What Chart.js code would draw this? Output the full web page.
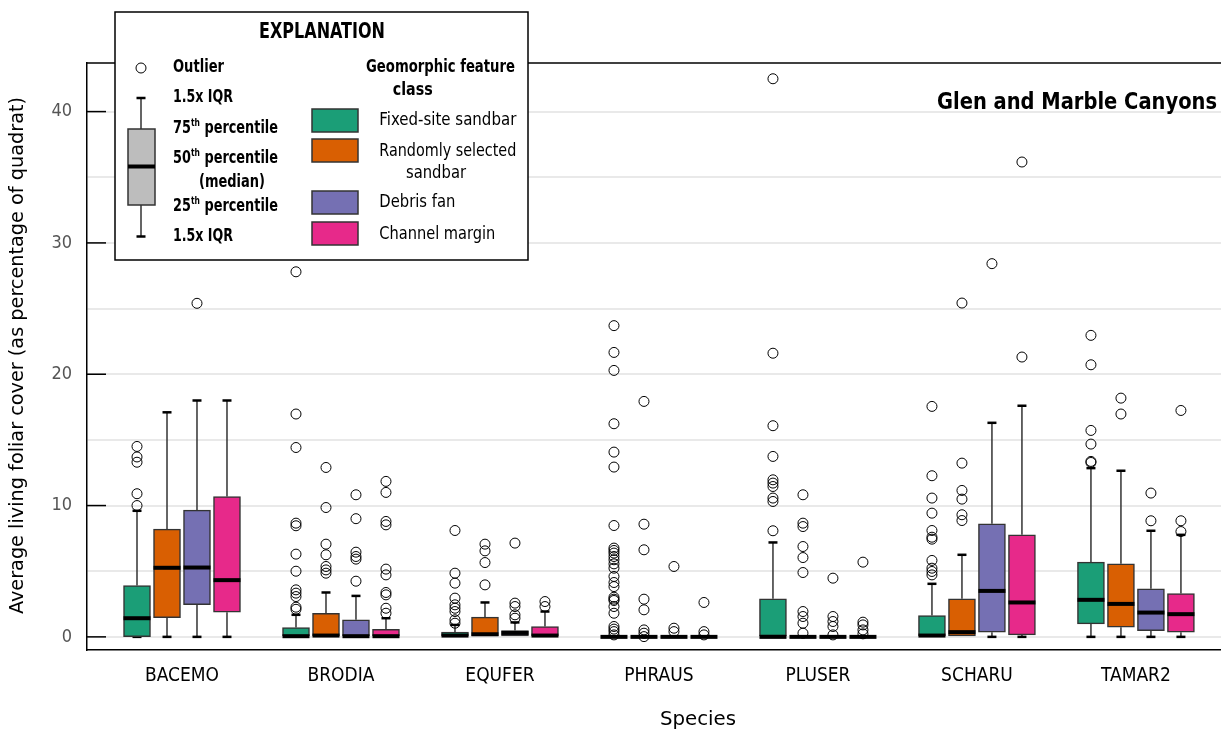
<!DOCTYPE html>
<html><head><meta charset="utf-8">
<script src="https://cdn.jsdelivr.net/npm/chart.js@4.4.1/dist/chart.umd.min.js"></script>
<style>html,body{margin:0;padding:0;background:#fff;overflow:hidden}#wrap{position:relative;width:1221px;height:733px}</style>
</head><body><div id="wrap"><canvas id="c" width="1221" height="733"></canvas></div>
<script>
// ---------------- DATA ----------------
const species = ['BACEMO','BRODIA','EQUFER','PHRAUS','PLUSER','SCHARU','TAMAR2'];
const classNames = ['Fixed-site sandbar','Randomly selected sandbar','Debris fan','Channel margin'];
const classColors = ['#1b9e77','#d95f02','#7570b3','#e7298a'];
const yTickLabels = [0,10,20,30,40];

// Fixed-site sandbar
const fixedQ1  = [1.0e-2, 0, 0, 0, 0, 0, 0.99];
const fixedMed = [1.42, 0.05, 0.1, 0, 0, 0.1, 2.82];
const fixedQ3  = [3.91, 0.71, 0.36, 0, 2.9, 1.63, 5.69];
const fixedLo  = [0, 0, 0, 0, 0, 0, 0];
const fixedHi  = [9.6, 1.68, 0.91, 0, 7.19, 4.04, 12.85];
const fixedOut = [
  [10.0, 10.9, 13.3, 13.7, 14.5],
  [27.8, 16.97, 14.42, 8.66, 8.46, 6.3, 5.0, 3.58, 3.33, 3.07, 2.26, 2.1],
  [8.1, 4.85, 4.09, 2.95, 2.44, 2.18, 1.93, 1.3, 1.04],
  [23.7, 21.66, 20.29, 16.23, 14.07, 12.93, 8.48, 6.76, 6.58, 6.38, 6.12, 5.87, 5.56, 5.23, 4.6, 4.14, 3.83, 3.02, 2.87, 2.77, 2.31, 1.8, 0.79, 0.59, 0.4, 0.15],
  [42.5, 21.6, 16.08, 13.74, 11.96, 11.71, 11.45, 10.57, 10.31, 8.08],
  [17.55, 12.27, 10.57, 9.42, 8.1, 7.59, 7.44, 5.82, 5.23, 4.98, 4.72],
  [22.96, 20.72, 15.72, 14.68, 13.36, 13.28]
];
// Randomly selected sandbar
const randomQ1  = [1.47, 0, 0, 0, 0, 0, 0.74];
const randomMed = [5.26, 0.1, 0.2, 0, 0, 0.36, 2.51];
const randomQ3  = [8.2, 1.8, 1.5, 0, 0, 2.9, 5.56];
const randomLo  = [0, 0, 0, 0, 0, 0, 0];
const randomHi  = [17.1, 3.38, 2.62, 0, 0, 6.25, 12.65];
const randomOut = [
  [],
  [12.9, 9.85, 7.06, 6.25, 5.36, 5.1, 4.85],
  [7.06, 6.55, 5.66, 3.96],
  [17.93, 8.58, 6.63, 2.87, 2.06, 0.53, 0.28, 0.02],
  [10.82, 8.66, 8.4, 6.88, 6.04, 4.9, 1.93, 1.55, 1.04, 0.28],
  [25.42, 13.23, 11.15, 10.49, 9.3, 8.86],
  [18.18, 16.97]
];
// Debris fan
const debrisQ1  = [2.46, 0, 0, 0, 0, 0.36, 0.48];
const debrisMed = [5.28, 0.05, 0.3, 0, 0, 3.5, 1.85];
const debrisQ3  = [9.65, 1.3, 0.48, 0, 0, 8.61, 3.66];
const debrisLo  = [0, 0, 0, 0, 0, 0, 0];
const debrisHi  = [18.0, 3.12, 1.1, 0, 0, 16.3, 8.08];
const debrisOut = [
  [25.4],
  [10.82, 9.0, 6.45, 6.12, 5.92, 4.24],
  [7.14, 2.57, 2.31, 1.68, 1.42],
  [5.36, 0.66, 0.4],
  [4.47, 1.55, 1.17, 0.79, 0.15],
  [28.42],
  [10.95, 8.84]
];
// Channel margin
const channelQ1  = [1.88, 0, 0, 0, 0, 0.15, 0.36];
const channelMed = [4.32, 0.05, 0.1, 0, 0, 2.62, 1.73];
const channelQ3  = [10.69, 0.58, 0.79, 0, 0, 7.77, 3.3];
const channelLo  = [0, 0, 0, 0, 0, 0, 0];
const channelHi  = [18.0, 1.42, 1.93, 0, 0, 17.6, 7.77];
const channelOut = [
  [],
  [11.84, 11.0, 8.79, 8.53, 5.16, 4.72, 3.38, 3.2, 2.18, 1.8],
  [2.69, 2.31],
  [2.62, 0.4, 0.15],
  [5.69, 1.12, 0.91, 0.53, 0.23],
  [36.16, 21.31],
  [17.24, 8.84, 8.02]
];

// ---------------- FONT PICK ----------------
function hasFont(name){
  const c=document.createElement('canvas').getContext('2d');
  const t='mmmmmmmmmmlliWWW BACEMO 0123';
  let r=false;
  for(const fb of ['monospace','serif']){
    c.font='40px '+fb; const a=c.measureText(t).width;
    c.font='40px "'+name+'", '+fb; const b=c.measureText(t).width;
    if(Math.abs(a-b)>0.5) r=true;
  }
  return r;
}
let NARROW=null;
for(const n of ['Liberation Sans Narrow','Arial Narrow','DejaVu Sans Condensed','Roboto Condensed']){ if(hasFont(n)){NARROW=n;break;} }
const F = NARROW ? '"'+NARROW+'", "Liberation Sans", sans-serif' : '"Liberation Sans", Roboto, sans-serif';

// outlier markers must not shrink the plot area (no auto overflow padding)
Chart.ScatterController.prototype.getMaxOverflow = function(){ return 0; };

// ---------------- BUILD ----------------
const groups = [
  {q1:fixedQ1, med:fixedMed, q3:fixedQ3, lo:fixedLo, hi:fixedHi, out:fixedOut},
  {q1:randomQ1, med:randomMed, q3:randomQ3, lo:randomLo, hi:randomHi, out:randomOut},
  {q1:debrisQ1, med:debrisMed, q3:debrisQ3, lo:debrisLo, hi:debrisHi, out:debrisOut},
  {q1:channelQ1, med:channelMed, q3:channelQ3, lo:channelLo, hi:channelHi, out:channelOut}
];
const offsets = [-0.283, -0.0943, 0.0943, 0.283];
const BOXW = 27;

const datasets = groups.map((g,k)=>({
  type:'bar', label:classNames[k],
  data: species.map((s,i)=>({x:i+1+offsets[k], y:[g.q1[i], g.q3[i]]})),
  backgroundColor: classColors[k], borderColor:'#333', borderWidth:1.5, borderSkipped:false,
  grouped:false, maxBarThickness:BOXW, barPercentage:1, categoryPercentage:1, order:1
}));
const outPts=[];
groups.forEach((g,k)=>species.forEach((s,i)=>g.out[i].forEach(v=>outPts.push({x:i+1+offsets[k], y:v}))));
datasets.push({type:'scatter', label:'Outlier', data:outPts, pointStyle:'circle', pointRadius:5, pointHoverRadius:5,
  borderColor:'#000', borderWidth:1, backgroundColor:'rgba(0,0,0,0)', order:-1});

function fitText(ctx, txt, x, y, w, font, align, color, rot){
  ctx.save(); ctx.font=font; ctx.fillStyle=color||'#000'; ctx.textBaseline='middle';
  const m=ctx.measureText(txt).width; const sx=w/m;
  ctx.translate(x,y); if(rot) ctx.rotate(rot); ctx.scale(sx,1);
  ctx.textAlign=align||'left'; ctx.fillText(txt,0,0); ctx.restore();
}
function supText(ctx, a, sup, b, x, y, w, size){
  ctx.save();
  const fn='bold '+size+'px '+F, fs='bold '+Math.round(size*0.6)+'px '+F;
  ctx.font=fn; const wa=ctx.measureText(a).width, wb=ctx.measureText(b).width;
  ctx.font=fs; const ws=ctx.measureText(sup).width;
  const sx=w/(wa+wb+ws);
  ctx.translate(x,y); ctx.scale(sx,1); ctx.textBaseline='middle'; ctx.textAlign='left'; ctx.fillStyle='#000';
  ctx.font=fn; ctx.fillText(a,0,0);
  ctx.font=fs; ctx.fillText(sup,wa,-size*0.32);
  ctx.font=fn; ctx.fillText(b,wa+ws,0);
  ctx.restore();
}

const boxPlugin = {
  id:'boxparts',
  beforeDraw(chart){ const c=chart.ctx; c.save(); c.fillStyle='#fff'; c.fillRect(0,0,chart.width,chart.height); c.restore(); },
  beforeDatasetsDraw(chart){
    const {ctx, scales:{x,y}} = chart;
    ctx.save(); ctx.strokeStyle='#333'; 
    groups.forEach((g,k)=>species.forEach((s,i)=>{
      const px=x.getPixelForValue(i+1+offsets[k]);
      const segs=[];
      if(g.hi[i]>g.q3[i]) segs.push([g.q3[i],g.hi[i]]);
      if(g.q1[i]>g.lo[i]) segs.push([g.q1[i],g.lo[i]]);
      segs.forEach(([a,b])=>{
        ctx.lineWidth=1.5; ctx.strokeStyle='#333';
        ctx.beginPath(); ctx.moveTo(px,y.getPixelForValue(a)); ctx.lineTo(px,y.getPixelForValue(b)); ctx.stroke();
        ctx.lineWidth=2.5; ctx.strokeStyle='#000';
        ctx.beginPath(); ctx.moveTo(px-4.5,y.getPixelForValue(b)); ctx.lineTo(px+4.5,y.getPixelForValue(b)); ctx.stroke();
      });
    }));
    ctx.restore();
  },
  afterDatasetDraw(chart,args){
    const k=args.index; if(k>3) return;
    const {ctx, scales:{x,y}} = chart; const g=groups[k];
    ctx.save(); ctx.strokeStyle='#000'; ctx.lineWidth=4;
    species.forEach((s,i)=>{
      const px=x.getPixelForValue(i+1+offsets[k]); const py=y.getPixelForValue(g.med[i]);
      ctx.beginPath(); ctx.moveTo(px-BOXW/2,py); ctx.lineTo(px+BOXW/2,py); ctx.stroke();
    });
    ctx.restore();
  },
  afterDraw(chart){
    const {ctx, chartArea:ca, scales:{y}} = chart;
    ctx.save();
    // top frame line
    ctx.strokeStyle='#000'; ctx.lineWidth=1.5;
    ctx.beginPath(); ctx.moveTo(ca.left,ca.top); ctx.lineTo(chart.width,ca.top); ctx.stroke();
    // inward ticks
    ctx.lineWidth=1.5;
    yTickLabels.forEach(v=>{ const py=y.getPixelForValue(v); ctx.beginPath(); ctx.moveTo(ca.left,py); ctx.lineTo(ca.left+19,py); ctx.stroke(); });
    // title
    fitText(ctx,'Glen and Marble Canyons',1217,103,280,'bold 23px '+F,'right');
    // axis titles
    fitText(ctx,'Average living foliar cover (as percentage of quadrat)',18,355.5,517,'20px '+F,'center','#000',-Math.PI/2);
    fitText(ctx,'Species',698,720,76,'20px '+F,'center');
    // legend
    ctx.fillStyle='#fff'; ctx.fillRect(115,12,413,248);
    ctx.strokeStyle='#000'; ctx.lineWidth=1.5; ctx.strokeRect(115,12,413,248);
    fitText(ctx,'EXPLANATION',322,32.5,126,'bold 21px '+F,'center');
    ctx.lineWidth=1; ctx.beginPath(); ctx.arc(141,68,5,0,Math.PI*2); ctx.stroke();
    fitText(ctx,'Outlier',173,68,51,'bold 17px '+F,'left');
    // sample box
    ctx.strokeStyle='#333'; ctx.lineWidth=1.5;
    ctx.beginPath(); ctx.moveTo(141,98); ctx.lineTo(141,129); ctx.moveTo(141,205); ctx.lineTo(141,236.5); ctx.stroke();
    ctx.strokeStyle='#000'; ctx.lineWidth=2.5;
    ctx.beginPath(); ctx.moveTo(136.5,98); ctx.lineTo(145.5,98); ctx.moveTo(136.5,236.5); ctx.lineTo(145.5,236.5); ctx.stroke();
    ctx.fillStyle='#bdbdbd'; ctx.fillRect(128,129,27,76);
    ctx.strokeStyle='#333'; ctx.lineWidth=1.5; ctx.strokeRect(128,129,27,76);
    ctx.strokeStyle='#000'; ctx.lineWidth=4; ctx.beginPath(); ctx.moveTo(128,166.5); ctx.lineTo(155,166.5); ctx.stroke();
    fitText(ctx,'1.5x IQR',173,98,60,'bold 17px '+F,'left');
    supText(ctx,'75','th',' percentile',173,129,105,17);
    supText(ctx,'50','th',' percentile',173,159,105,17);
    fitText(ctx,'(median)',199,182.5,66,'bold 17px '+F,'left');
    supText(ctx,'25','th',' percentile',173,206.5,105,17);
    fitText(ctx,'1.5x IQR',173,236.5,60,'bold 17px '+F,'left');
    fitText(ctx,'Geomorphic feature',366,68,149,'bold 17px '+F,'left');
    fitText(ctx,'class',412.7,91,40,'bold 17px '+F,'center');
    const sw=[[109,classColors[0]],[139,classColors[1]],[191,classColors[2]],[222,classColors[3]]];
    sw.forEach(([top,col])=>{ ctx.fillStyle=col; ctx.fillRect(312,top,46,23); ctx.strokeStyle='#333'; ctx.lineWidth=1.5; ctx.strokeRect(312,top,46,23); });
    fitText(ctx,'Fixed-site sandbar',379.3,121,137,'17px '+F,'left');
    fitText(ctx,'Randomly selected',379.3,151.5,137,'17px '+F,'left');
    fitText(ctx,'sandbar',406,174,60,'17px '+F,'left');
    fitText(ctx,'Debris fan',379.3,203,76,'17px '+F,'left');
    fitText(ctx,'Channel margin',379.3,234.3,116,'17px '+F,'left');
    ctx.restore();
  }
};

new Chart(document.getElementById('c'), {
  type:'bar',
  data:{datasets},
  plugins:[boxPlugin],
  options:{
    responsive:false, devicePixelRatio:1, animation:false,
    layout:{padding:{top:63,left:0,right:0,bottom:0}},
    plugins:{legend:{display:false}, tooltip:{enabled:false}},
    scales:{
      x:{type:'linear', offset:false, min:0.4025, max:7.535,
        afterBuildTicks(s){ s.ticks = species.map((_,i)=>({value:i+1})); },
        ticks:{autoSkip:false, maxRotation:0, minRotation:0, color:'#000', padding:15,
          font:{family:F, size: NARROW?19:18}, callback:(v,i)=>species[i]},
        grid:{display:false, drawTicks:false, offset:false}, border:{display:true, color:'#000', width:1.5},
        afterFit(s){ s.height=83; }
      },
      y:{type:'linear', min:-1, max:43.7,
        afterBuildTicks(s){ s.ticks=[0,5,10,15,20,25,30,35,40].map(v=>({value:v})); },
        ticks:{color:'#555', padding:15, font:{family:F, size: NARROW?18:17},
          callback:(v)=> (v%10===0 ? String(v) : '')},
        grid:{color:'#e9e9e9', lineWidth:2, drawTicks:false},
        border:{display:true, color:'#000', width:1.5},
        afterFit(s){ s.width=87; }
      }
    }
  }
});
</script></body></html>
